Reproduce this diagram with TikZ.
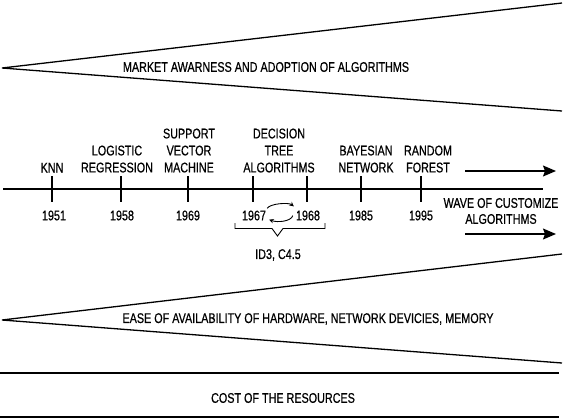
\documentclass[tikz,border=0pt]{standalone}
\usepackage{fontspec}
\setmainfont{Liberation Sans}[FakeStretch=0.77,FakeBold=0.6]
\usetikzlibrary{arrows.meta}
\begin{document}
\begin{tikzpicture}[x=1pt,y=-1pt,
  every node/.style={font=\fontsize{14}{17}\selectfont,inner sep=0pt},
  lbl/.style={anchor=south,align=center},
  yr/.style={anchor=center},
  ln/.style={line width=1.3pt},
  tk/.style={line width=1.5pt},
  bigarrow/.style={line width=1.3pt,-{Stealth[length=13pt,width=11pt,inset=2pt]}},
  smallarrow/.style={line width=0.9pt,-{Stealth[length=4.5pt,width=4.5pt]}}]
\useasboundingbox (0,0) rectangle (563,418);
% top wedge
\coordinate (tA) at (2,68);
\coordinate (tU) at (562,3);
\coordinate (tL) at (562,111);
\draw[ln] (tU) -- (tA) -- (tL);
\node (market) at (266,67) {MARKET AWARNESS AND ADOPTION OF ALGORITHMS};
% timeline
\coordinate (t0) at (3,189);
\coordinate (t1) at (543,189);
\draw[tk] (t0) -- (t1);
\foreach \x in {52,121,188,253,307,361,421}{\draw[tk] (\x,176) -- (\x,202);}
\node[lbl] (knn) at (52,172.7) {KNN};
\node[lbl] (logreg) at (117,172.7) {LOGISTIC\\REGRESSION};
\node[lbl] (svm) at (189,172.7) {SUPPORT\\VECTOR\\MACHINE};
\node[lbl] (dtree) at (279,172.7) {DECISION\\TREE\\ALGORITHMS};
\node[lbl] (bayes) at (366,172.7) {BAYESIAN\\NETWORK};
\node[lbl] (rf) at (428,172.7) {RANDOM\\FOREST};
\node[yr] (y1951) at (54,215.5) {1951};
\node[yr] (y1958) at (122,215.5) {1958};
\node[yr] (y1969) at (188,215.5) {1969};
\node[yr] (y1967) at (254,215.5) {1967};
\node[yr] (y1968) at (308,215.5) {1968};
\node[yr] (y1985) at (361,215.5) {1985};
\node[yr] (y1995) at (421,215.5) {1995};
% swap arrows
\draw[smallarrow] ([shift={(1,-2)}]y1967.north east) .. controls +(3,-5) and +(-5,-4) .. ([shift={(-2,-4)}]y1968.north west);
\draw[smallarrow] ([shift={(-3,-5)}]y1968.south west) .. controls +(-2,6) and +(8,3) .. ([shift={(3,-1)}]y1967.south east);
% bracket
\draw[line width=0.9pt] (235,223) -- (235,228.5) -- (272,228.5) -- (277.5,236) -- (283,228.5) -- (325,228.5) -- (325,223);
\node (id3) at (278,255) {ID3, C4.5};
% right arrows
\coordinate (a1s) at (465,171);
\coordinate (a1e) at (556,171);
\coordinate (a2s) at (465,234);
\coordinate (a2e) at (556,234);
\draw[bigarrow] (a1s) -- (a1e);
\draw[bigarrow] (a2s) -- (a2e);
\node[align=center,font=\fontsize{14}{16}\selectfont] (wave) at (501,211) {WAVE OF CUSTOMIZE\\ALGORITHMS};
% bottom wedge
\coordinate (bA) at (2,320);
\coordinate (bU) at (562,254);
\coordinate (bL) at (562,363);
\draw[ln] (bU) -- (bA) -- (bL);
\node (ease) at (308,319) {EASE OF AVAILABILITY OF HARDWARE, NETWORK DEVICIES, MEMORY};
% cost band
\coordinate (c0) at (0,373);
\coordinate (c1) at (559,373);
\coordinate (c2) at (0,417);
\coordinate (c3) at (559,417);
\draw[ln] (c0) -- (c1);
\draw[ln] (c2) -- (c3);
\node (cost) at (283,398) {COST OF THE RESOURCES};
\end{tikzpicture}
\end{document}
